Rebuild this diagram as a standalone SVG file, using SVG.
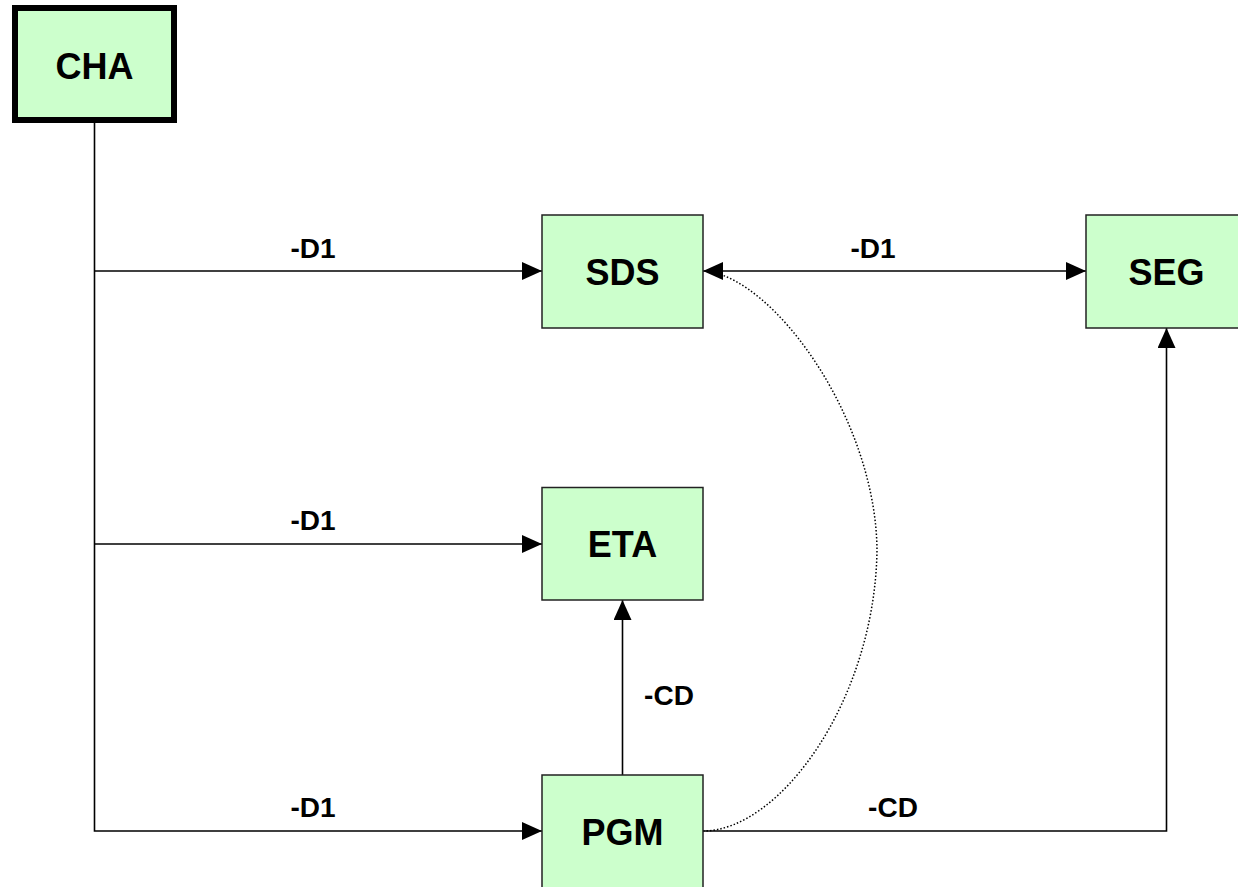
<svg xmlns="http://www.w3.org/2000/svg" width="1238" height="887" viewBox="0 0 1238 887">
<style>
.node{fill:#ccffcc;stroke:#222;stroke-width:1.5}
.main{fill:#ccffcc;stroke:#000;stroke-width:6}
.nt{font-family:"Liberation Sans",Arial,sans-serif;font-weight:bold;font-size:36px;fill:#000;text-anchor:middle}
.lt{font-family:"Liberation Sans",Arial,sans-serif;font-weight:bold;font-size:28px;fill:#000;text-anchor:middle}
.ln{fill:none;stroke:#000;stroke-width:1.6}
.dot{fill:none;stroke:#000;stroke-width:1.5;stroke-dasharray:1.5 2}
</style>
<defs>
<marker id="arr" markerUnits="userSpaceOnUse" markerWidth="20" markerHeight="18" refX="20" refY="9" orient="auto-start-reverse">
<path d="M0,0 L20,9 L0,18 z" fill="#000"/>
</marker>
</defs>
<rect width="1238" height="887" fill="#fff"/>
<g id="connectors">
<path class="ln" d="M94.5,123 V831 H542" marker-end="url(#arr)"/>
<path class="ln" d="M94.5,271 H542" marker-end="url(#arr)"/>
<path class="ln" d="M94.5,544 H542" marker-end="url(#arr)"/>
<path class="ln" d="M703,271 H1086" marker-start="url(#arr)" marker-end="url(#arr)"/>
<path class="ln" d="M622.5,775 V600" marker-end="url(#arr)"/>
<path class="ln" d="M703,831 H1166.5 V328" marker-end="url(#arr)"/>
<path class="dot" d="M703,831 C780,831 875,700 877,550 C876,430 790,300 722,275"/>
<text class="lt" x="313" y="258">-D1</text>
<text class="lt" x="873" y="258">-D1</text>
<text class="lt" x="313" y="530">-D1</text>
<text class="lt" x="313" y="817">-D1</text>
<text class="lt" x="669" y="705">-CD</text>
<text class="lt" x="893" y="817">-CD</text>
</g>
<g id="CHA"><rect class="main" x="15" y="8" width="159" height="112"/><text class="nt" x="94.5" y="79">CHA</text></g>
<g id="SDS"><rect class="node" x="542" y="215" width="161" height="113"/><text class="nt" x="622.5" y="285">SDS</text></g>
<g id="SEG"><rect class="node" x="1086" y="215" width="161" height="113"/><text class="nt" x="1166.5" y="285">SEG</text></g>
<g id="ETA"><rect class="node" x="542" y="487.5" width="161" height="112.5"/><text class="nt" x="622.5" y="557">ETA</text></g>
<g id="PGM"><rect class="node" x="542" y="775" width="161" height="113"/><text class="nt" x="622.5" y="845">PGM</text></g>
</svg>
